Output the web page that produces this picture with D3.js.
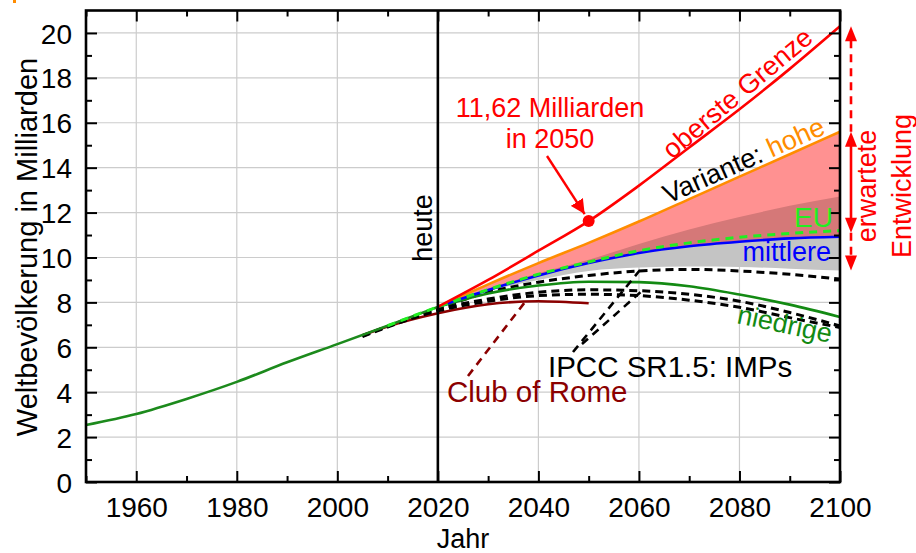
<!DOCTYPE html>
<html>
<head>
<meta charset="utf-8">
<script src="https://cdn.jsdelivr.net/npm/d3@7"></script>
<style>
  html, body { margin: 0; padding: 0; background: #fff; }
  svg { display: block; font-family: "Liberation Sans", Arial, sans-serif; }
</style>
</head>
<body>
<svg id="chart" width="916" height="553"></svg>
<script>
// World population (billions): history and projection variants
const historyYears = [1950, 1960, 1970, 1980, 1990, 2000, 2010, 2020];
const historyPop   = [2.54, 3.03, 3.70, 4.46, 5.33, 6.14, 6.96, 7.80];

const projYears   = [2020, 2030, 2040, 2050, 2060, 2070, 2080, 2090, 2100];
const upperLimit  = [7.80, 9.00, 10.30, 11.62, 13.20, 14.90, 16.60, 18.40, 20.30];
const highVar     = [7.80, 8.80, 9.75, 10.65, 11.60, 12.60, 13.60, 14.60, 15.60];
const mediumVar   = [7.80, 8.55, 9.20, 9.75, 10.20, 10.50, 10.70, 10.85, 10.92];
const lowVar      = [7.80, 8.40, 8.75, 8.92, 8.90, 8.72, 8.35, 7.90, 7.35];
const bandUpper   = [7.80, 8.60, 9.30, 9.90, 10.60, 11.25, 11.80, 12.30, 12.72];
const bandLower   = [7.80, 8.50, 9.00, 9.40, 9.55, 9.60, 9.58, 9.50, 9.42];

const euYears = [2010, 2020, 2030, 2040, 2050, 2060, 2070, 2080, 2090, 2100];
const euVar   = [6.96, 7.80, 8.57, 9.25, 9.80, 10.30, 10.65, 10.90, 11.07, 11.20];

const impYears = [2005, 2020, 2030, 2040, 2050, 2060, 2070, 2080, 2090, 2100];
const impSSP2  = [6.52, 7.72, 8.45, 8.90, 9.20, 9.40, 9.47, 9.40, 9.25, 9.04];
const impSSP1a = [6.50, 7.68, 8.15, 8.45, 8.56, 8.52, 8.36, 8.05, 7.55, 6.95];
const impSSP1b = [6.48, 7.62, 8.05, 8.30, 8.36, 8.30, 8.10, 7.78, 7.32, 6.88];

const romeYears = [2005, 2010, 2020, 2030, 2040, 2050];
const romePop   = [6.54, 6.93, 7.52, 7.92, 8.05, 7.96];

const markYear = 2050, markValue = 11.62;

const xMajor = [1960, 1980, 2000, 2020, 2040, 2060, 2080, 2100];
const xMinor = [1950, 1970, 1990, 2010, 2030, 2050, 2070, 2090];
const yMajor = [0, 2, 4, 6, 8, 10, 12, 14, 16, 18, 20];
const yMinor = [1, 3, 5, 7, 9, 11, 13, 15, 17, 19];

const svg = d3.select("#chart");
const x = d3.scaleLinear().domain([1950, 2100]).range([86, 840]);
const y = d3.scaleLinear().domain([0, 21]).range([482, 10.5]);
const FS = 27;

const pts = (xs, ys) => xs.map((v, i) => [v, ys[i]]);
const line = d3.line().x(d => x(d[0])).y(d => y(d[1])).curve(d3.curveMonotoneX);
const band = (xs, lo, hi) => d3.area()
  .x(d => x(d[0])).y0(d => y(d[1])).y1(d => y(d[2])).curve(d3.curveMonotoneX)(xs.map((v, i) => [v, lo[i], hi[i]]));

// tiny marker in the corner
svg.append("rect").attr("x", 13).attr("y", 0).attr("width", 3).attr("height", 3).attr("fill", "#ff8c00");

// grid
const grid = svg.append("g").attr("stroke", "#cccccc").attr("stroke-width", 1.2);
xMajor.filter(v => v < 2100).forEach(v => grid.append("line")
  .attr("x1", x(v)).attr("x2", x(v)).attr("y1", y(21)).attr("y2", y(0)));
yMajor.filter(v => v > 0).forEach(v => grid.append("line")
  .attr("x1", x(1950)).attr("x2", x(2100)).attr("y1", y(v)).attr("y2", y(v)));

// projection bands
svg.append("path").attr("d", band(projYears, mediumVar, highVar)).attr("fill", "#ff9191");
svg.append("path").attr("d", band(projYears, mediumVar, bandUpper)).attr("fill", "#d57878");
svg.append("path").attr("d", band(projYears, bandLower, mediumVar)).attr("fill", "#c4c4c4");

// club of rome (drawn below the history line)
svg.append("path").attr("d", line(pts(romeYears, romePop)))
  .attr("fill", "none").attr("stroke", "#8b0000").attr("stroke-width", 2.6);

// IPCC IMP pathways
[impSSP2, impSSP1a, impSSP1b].forEach(s => svg.append("path")
  .attr("d", line(pts(impYears, s)))
  .attr("fill", "none").attr("stroke", "#000").attr("stroke-width", 3).attr("stroke-dasharray", "8,5"));

// history
svg.append("path").attr("d", line(pts(historyYears, historyPop)))
  .attr("fill", "none").attr("stroke", "#1c8a1c").attr("stroke-width", 2.6);

// variants
svg.append("path").attr("d", line(pts(projYears, lowVar)))
  .attr("fill", "none").attr("stroke", "#138a13").attr("stroke-width", 2.6);
svg.append("path").attr("d", line(pts(projYears, highVar)))
  .attr("fill", "none").attr("stroke", "#ff8c00").attr("stroke-width", 2.6);
svg.append("path").attr("d", line(pts(projYears, mediumVar)))
  .attr("fill", "none").attr("stroke", "#0000ff").attr("stroke-width", 2.6);
svg.append("path").attr("d", line(pts(euYears, euVar)))
  .attr("fill", "none").attr("stroke", "#22ee22").attr("stroke-width", 3).attr("stroke-dasharray", "8,6");
svg.append("path").attr("d", line(pts(projYears, upperLimit)))
  .attr("fill", "none").attr("stroke", "#ff0000").attr("stroke-width", 2.6);

// "heute" marker
svg.append("line").attr("x1", x(2020)).attr("x2", x(2020)).attr("y1", y(21)).attr("y2", y(0))
  .attr("stroke", "#000").attr("stroke-width", 2.6);
svg.append("text").attr("transform", `translate(${x(2020) - 6},228) rotate(-90)`)
  .attr("text-anchor", "middle").attr("font-size", FS).text("heute");

// axes
const axG = svg.append("g");
const bottom = axG.append("g").attr("transform", `translate(0,${y(0)})`)
  .call(d3.axisBottom(x).tickValues(xMajor).tickFormat(d3.format("d")).tickSizeInner(-11).tickSizeOuter(0).tickPadding(15));
axG.append("g").attr("transform", `translate(0,${y(0)})`)
  .call(d3.axisBottom(x).tickValues(xMinor).tickFormat("").tickSizeInner(-6).tickSizeOuter(0));
axG.append("g").attr("transform", `translate(0,${y(21)})`)
  .call(d3.axisTop(x).tickValues(xMajor).tickFormat("").tickSizeInner(-11).tickSizeOuter(0));
axG.append("g").attr("transform", `translate(0,${y(21)})`)
  .call(d3.axisTop(x).tickValues(xMinor).tickFormat("").tickSizeInner(-6).tickSizeOuter(0));
const left = axG.append("g").attr("transform", `translate(${x(1950)},0)`)
  .call(d3.axisLeft(y).tickValues(yMajor).tickSizeInner(-11).tickSizeOuter(0).tickPadding(14));
axG.append("g").attr("transform", `translate(${x(1950)},0)`)
  .call(d3.axisLeft(y).tickValues(yMinor).tickFormat("").tickSizeInner(-6).tickSizeOuter(0));
axG.append("g").attr("transform", `translate(${x(2100)},0)`)
  .call(d3.axisRight(y).tickValues(yMajor).tickFormat("").tickSizeInner(-11).tickSizeOuter(0));
axG.append("g").attr("transform", `translate(${x(2100)},0)`)
  .call(d3.axisRight(y).tickValues(yMinor).tickFormat("").tickSizeInner(-6).tickSizeOuter(0));
axG.selectAll(".domain").remove();
axG.selectAll(".tick line").attr("stroke", "#000").attr("stroke-width", 2);
axG.selectAll("g").attr("font-size", null).attr("font-family", null);
axG.selectAll("text").attr("fill", "#000").style("font-size", FS + 1 + "px")
  .style("font-family", "'Liberation Sans', Arial, sans-serif");
bottom.selectAll("text").attr("dy", null).attr("y", 35);
left.selectAll("text").attr("dy", "0.36em");
svg.append("rect").attr("x", x(1950)).attr("y", y(21)).attr("width", x(2100) - x(1950)).attr("height", y(0) - y(21))
  .attr("fill", "none").attr("stroke", "#000").attr("stroke-width", 2.6);

// axis titles
svg.append("text").attr("transform", "translate(37,247) rotate(-90)").attr("text-anchor", "middle")
  .attr("font-size", 29).text("Weltbevölkerung in Milliarden");
svg.append("text").attr("x", 463).attr("y", 548).attr("text-anchor", "middle").attr("font-size", FS).text("Jahr");

// 2050 marker with callout
const defs = svg.append("defs");
defs.append("marker").attr("id", "ah").attr("viewBox", "0 0 10 10").attr("refX", 10).attr("refY", 5)
  .attr("markerWidth", 6).attr("markerHeight", 6).attr("markerUnits", "strokeWidth").attr("orient", "auto")
  .append("path").attr("d", "M0,0 L10,5 L0,10 z").attr("fill", "#ff0000");
svg.append("line").attr("x1", 547).attr("y1", 156).attr("x2", x(markYear) - 4).attr("y2", y(markValue) - 7)
  .attr("stroke", "#ff0000").attr("stroke-width", 2.4).attr("marker-end", "url(#ah)");
svg.append("circle").attr("cx", x(markYear)).attr("cy", y(markValue)).attr("r", 6).attr("fill", "#ff0000");
svg.append("text").attr("x", 550).attr("y", 117).attr("text-anchor", "middle").attr("font-size", FS)
  .attr("fill", "#ff0000").text("11,62 Milliarden");
svg.append("text").attr("x", 550).attr("y", 148).attr("text-anchor", "middle").attr("font-size", FS)
  .attr("fill", "#ff0000").text("in 2050");

// series labels
svg.append("text").attr("transform", "translate(672,160) rotate(-40)").attr("font-size", FS)
  .attr("fill", "#ff0000").text("oberste Grenze");
const vt = svg.append("text").attr("transform", "translate(668,204) rotate(-24)").attr("font-size", FS);
vt.append("tspan").attr("fill", "#000").text("Variante: ");
vt.append("tspan").attr("fill", "#ff8c00").text("hohe");
svg.append("text").attr("x", 833).attr("y", 227).attr("text-anchor", "end").attr("font-size", FS + 1)
  .attr("fill", "#22ee22").text("EU");
svg.append("text").attr("x", 831).attr("y", 261).attr("text-anchor", "end").attr("font-size", FS)
  .attr("fill", "#0000ff").text("mittlere");
svg.append("text").attr("transform", "translate(736,323) rotate(12)").attr("font-size", FS)
  .attr("fill", "#138a13").text("niedrige");
svg.append("text").attr("x", 548).attr("y", 377).attr("font-size", 29.5).attr("fill", "#000").text("IPCC SR1.5: IMPs");
svg.append("text").attr("x", 447).attr("y", 402).attr("font-size", 29.5).attr("fill", "#8b0000").text("Club of Rome");

// leader lines
svg.append("line").attr("x1", 468).attr("y1", 376).attr("x2", 525).attr("y2", 302)
  .attr("stroke", "#8b0000").attr("stroke-width", 2.6).attr("stroke-dasharray", "8,6");
svg.append("line").attr("x1", 573).attr("y1", 352).attr("x2", 640).attr("y2", 270)
  .attr("stroke", "#000").attr("stroke-width", 2.6).attr("stroke-dasharray", "8,6");
svg.append("line").attr("x1", 582).attr("y1", 344).attr("x2", 643).attr("y2", 290)
  .attr("stroke", "#000").attr("stroke-width", 2.6).attr("stroke-dasharray", "8,6");

// range arrows on the right
const ax = 851;
const tri = (tipY, dir) => {
  const h = 15, w = 6;
  return `M${ax},${tipY} L${ax - w},${tipY + dir * h} L${ax + w},${tipY + dir * h} Z`;
};
const rArr = svg.append("g").attr("stroke", "#ff0000").attr("stroke-width", 2.6);
rArr.append("line").attr("x1", ax).attr("x2", ax).attr("y1", y(upperLimit[8]) + 14).attr("y2", y(highVar[8]))
  .attr("stroke-dasharray", "8,6");
rArr.append("line").attr("x1", ax).attr("x2", ax).attr("y1", y(highVar[8]) + 10).attr("y2", y(11.1) - 10);
rArr.append("line").attr("x1", ax).attr("x2", ax).attr("y1", y(11.1)).attr("y2", y(bandLower[8]) - 12)
  .attr("stroke-dasharray", "8,6");
const heads = svg.append("g").attr("fill", "#ff0000");
heads.append("path").attr("d", tri(y(upperLimit[8]), 1));
heads.append("path").attr("d", tri(y(highVar[8]), 1));
heads.append("path").attr("d", tri(y(11.1), -1));
heads.append("path").attr("d", tri(y(bandLower[8]), -1));
svg.append("text").attr("transform", "translate(876,186) rotate(-90)").attr("text-anchor", "middle")
  .attr("font-size", FS).attr("fill", "#ff0000").text("erwartete");
svg.append("text").attr("transform", "translate(911,186) rotate(-90)").attr("text-anchor", "middle")
  .attr("font-size", FS).attr("fill", "#ff0000").text("Entwicklung");
</script>
</body>
</html>
